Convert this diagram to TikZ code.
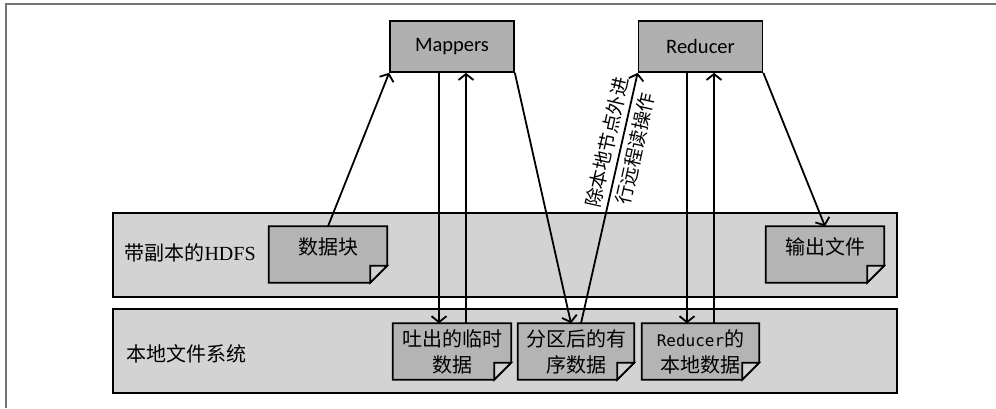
\documentclass[tikz,border=0pt]{standalone}
\usepackage{fontspec}
\usepackage{tikz}
\usetikzlibrary{calc}
\usetikzlibrary{arrows.meta}
\setmainfont{Liberation Serif}
\setmonofont{DejaVu Sans Mono}
\newfontfamily\cjk{Noto Sans CJK SC}
\newfontfamily\mapfont{Carlito}
\definecolor{bandgray}{HTML}{D3D3D3}
\definecolor{docgray}{HTML}{B4B4B4}
\definecolor{taskgray}{HTML}{B0B0B0}
\tikzset{
   band/.style={draw=black, line width=1.7pt, fill=bandgray,
      minimum width=784pt, minimum height=84pt, inner sep=0pt},
   task/.style={draw=black, line width=1.7pt, fill=taskgray,
      minimum width=124pt, minimum height=51pt, inner sep=0pt,
      font=\mapfont\fontsize{20.5}{22}\selectfont},
   docnode/.style={minimum width=118pt, minimum height=56pt, inner sep=0pt,
      align=center, font=\cjk\fontsize{20}{26}\selectfont},
   bandtext/.style={anchor=west, font=\cjk\fontsize{20}{24}\selectfont},
   flow/.style={draw=black, line width=1.8pt,
      -{Straight Barb[length=6pt, width=15pt, line width=1.8pt]}},
    }
% document shape with folded corner, drawn round a named node
\newcommand{\docshape}[1]{
   \draw[line width=1.7pt, fill=docgray] (#1.north west) -- (#1.north east)
      -- ([yshift=17pt]#1.south east) -- ([xshift=-17pt]#1.south east)
      -- (#1.south west) -- cycle;
   \draw[line width=1.7pt, fill=bandgray] ([yshift=17pt]#1.south east)
      -- ([xshift=-17pt, yshift=17pt]#1.south east) -- ([xshift=-17pt]#1.south east) -- cycle;
}
\begin{document}
\begin{tikzpicture}[x=1pt, y=-1pt]
            \useasboundingbox (0,0) rectangle (996,408);
            \draw[line width=1.2pt, black!55] (6,408) -- (6,4) -- (996,4);
            % bands
            \node[band] (hdfs) at (505,255) {};
            \node[band] (lfs) at (505,351) {};
            \node[bandtext] (hdfslbl) at (121,253) {带副本的{\rmfamily HDFS}};
            \node[bandtext] (lfslbl) at (123,354) {本地文件系统};
            % tasks
            \node[task] (map) at (452,46.5) {Mappers};
            \node[task] (red) at (700.5,46.5) {Reducer};
            % documents
            \node[docnode, text depth=16pt] (blk) at (328,254.5) {};
            \docshape{blk}
            \node[docnode, text depth=16pt] at (blk) {数据块};
            \node[docnode, text depth=16pt] (out) at (825,254.5) {};
            \docshape{out}
            \node[docnode, text depth=16pt] at (out) {输出文件};
            \node[docnode] (tmp) at (452,351.5) {};
            \docshape{tmp}
            \node[docnode] at (tmp) {吐出的临时\\数据};
            \node[docnode, minimum width=116pt] (part) at (576,351.5) {};
            \docshape{part}
            \node[docnode] at (part) {分区后的有\\序数据};
            \node[docnode, minimum width=117pt] (loc) at (700.5,351.5) {};
            \docshape{loc}
            \node[docnode] at (loc) {{\ttfamily\fontsize{16}{26}\selectfont Reducer}的\\本地数据};
            % flows
            \draw[flow] (blk.north) to (map.south west);
            \draw[flow] ([xshift=-13pt]map.south) to ([xshift=-13pt]tmp.north);
            \draw[flow] ([xshift=14pt]tmp.north) to ([xshift=14pt]map.south);
            \draw[flow] (map.south east) to ([xshift=-5pt]part.north);
            \draw[flow] ([xshift=5pt]part.north) to
               node[pos=0.71, sloped, align=center, font=\cjk\fontsize{19}{29}\selectfont]
               {除本地节点外进\\行远程读操作} (red.south west);
            \draw[flow] ([xshift=-13.5pt]red.south) to ([xshift=-13.5pt]loc.north);
            \draw[flow] ([xshift=13.5pt]loc.north) to ([xshift=13.5pt]red.south);
            \draw[flow] (red.south east) to (out.north);
        \end{tikzpicture}
\end{document}
